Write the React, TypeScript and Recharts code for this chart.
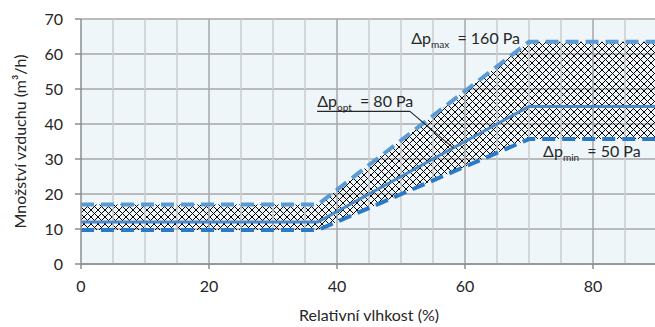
import React from "react";
import {
  ComposedChart,
  Area,
  Line,
  XAxis,
  YAxis,
  CartesianGrid,
  ReferenceLine,
  ReferenceDot,
} from "recharts";

// Relative humidity (%)
const humidity = [0, 37, 70, 90];
// Air flow (m3/h)
const minFlow = [9.7, 9.7, 35.7, 35.7];
const optFlow = [12, 12, 45, 45];
const maxFlow = [17, 17, 63.5, 63.5];

const xTicks = [0, 20, 40, 60, 80];
const yTicks = [0, 10, 20, 30, 40, 50, 60, 70];
const majorV = [20, 40, 60, 80];
const minorV = [5, 10, 15, 25, 30, 35, 45, 50, 55, 65, 70, 75, 85];

const labelMax = { x: 51.6, y: 63.0, main: "Δp", sub: "max", rest: "\u00a0 = 160 Pa" };
const labelOpt = { x: 36.9, y: 44.9, main: "Δp", sub: "opt", rest: "\u00a0 = 80 Pa" };
const labelMin = { x: 72.2, y: 30.5, main: "Δp", sub: "min", rest: "\u00a0 = 50 Pa" };
const optUnderline = [
  { x: 36.9, y: 43.6 },
  { x: 51.4, y: 43.6 },
];
const optPointer = [
  { x: 51.4, y: 43.6 },
  { x: 58.2, y: 33.1 },
];

const data = humidity.map((h, i) => ({
  x: h,
  band: [minFlow[i], maxFlow[i]],
  min: minFlow[i],
  opt: optFlow[i],
  max: maxFlow[i],
}));

const FONT = "Lato, 'Open Sans', sans-serif";
const TEXT = "#262626";

function makeLabel(l: { main: string; sub: string; rest: string }) {
  return (props: any) => {
    const vb = props.viewBox || {};
    const cx = (vb.x ?? 0) + (vb.width ?? 0) / 2;
    const cy = (vb.y ?? 0) + (vb.height ?? 0) / 2;
    return (
      <text x={cx} y={cy} fill={TEXT} fontFamily={FONT} fontSize={16} textAnchor="start">
        <tspan>{l.main}</tspan>
        <tspan fontSize={10} dy={4}>{l.sub}</tspan>
        <tspan fontSize={16} dy={-4}>{l.rest}</tspan>
      </text>
    );
  };
}

export default function App() {
  return (
    <div
      style={{
        position: "fixed",
        left: 0,
        top: 0,
        width: 655,
        height: 327,
        overflow: "hidden",
        background: "#fff",
      }}
    >
      <ComposedChart
        width={670}
        height={327}
        data={data}
        margin={{ top: 19, right: 13, bottom: 0, left: 0 }}
      >
        <defs>
          <pattern id="hatch" patternUnits="userSpaceOnUse" width={7} height={7}>
            <path d="M0,0 L7,7 M7,0 L0,7" stroke="#000" strokeWidth={1} fill="none" />
          </pattern>
        </defs>
        <CartesianGrid
          vertical={false}
          stroke="#a6a6a6"
          strokeWidth={1.5}
          fill="#eef6fa"
          fillOpacity={1}
        />
        {minorV.map((v) => (
          <ReferenceLine key={"mi" + v} x={v} stroke="#cbcbcb" strokeWidth={1.5} />
        ))}
        {majorV.map((v) => (
          <ReferenceLine key={"ma" + v} x={v} stroke="#a6a6a6" strokeWidth={1.5} />
        ))}
        <XAxis
          dataKey="x"
          type="number"
          domain={[0, 90]}
          ticks={xTicks}
          allowDataOverflow
          height={63}
          tickSize={5}
          tickMargin={12}
          stroke="#8c8c8c"
          strokeWidth={1.5}
          tick={{ fill: TEXT, fontSize: 16, fontFamily: FONT }}
          label={{
            content: (p: any) => {
              const vb = p.viewBox || {};
              return (
                <text
                  x={369}
                  y={(vb.y ?? 264) + 57}
                  textAnchor="middle"
                  fill={TEXT}
                  fontSize={16}
                  fontFamily={FONT}
                >
                  Relativní vlhkost (%)
                </text>
              );
            },
          }}
        />
        <YAxis
          type="number"
          domain={[0, 70]}
          ticks={yTicks}
          width={81}
          tickSize={6}
          tickMargin={12}
          stroke="#8c8c8c"
          strokeWidth={1.5}
          tick={{ fill: TEXT, fontSize: 16, fontFamily: FONT }}
          label={{
            content: (p: any) => {
              const vb = p.viewBox || {};
              const cy = (vb.y ?? 19) + (vb.height ?? 245) / 2;
              return (
                <text
                  x={19}
                  y={cy}
                  transform={`rotate(-90, 19, ${cy})`}
                  textAnchor="middle"
                  dominantBaseline="central"
                  fill={TEXT}
                  fontSize={16}
                  fontFamily={FONT}
                >
                  Množství vzduchu (m³/h)
                </text>
              );
            },
          }}
        />
        <Line
          dataKey="max"
          type="linear"
          stroke="#5b9bd5"
          strokeWidth={4}
          strokeDasharray="13 7"
          dot={false}
          activeDot={false}
          isAnimationActive={false}
        />
        <Line
          dataKey="min"
          type="linear"
          stroke="#2a7ac6"
          strokeWidth={4}
          strokeDasharray="13 7"
          dot={false}
          activeDot={false}
          isAnimationActive={false}
        />
        <Line
          dataKey="opt"
          type="linear"
          stroke="#4a88c7"
          strokeWidth={3}
          dot={false}
          activeDot={false}
          isAnimationActive={false}
        />
        <Area
          dataKey="band"
          type="linear"
          stroke="none"
          fill="url(#hatch)"
          fillOpacity={1}
          isAnimationActive={false}
          activeDot={false}
        />
        <ReferenceLine segment={optUnderline} stroke="#262626" strokeWidth={1.2} />
        <ReferenceLine segment={optPointer} stroke="#262626" strokeWidth={1.2} />
        <ReferenceDot
          x={labelMax.x}
          y={labelMax.y}
          r={1}
          fill="none"
          stroke="none"
          label={{ content: makeLabel(labelMax) }}
        />
        <ReferenceDot
          x={labelOpt.x}
          y={labelOpt.y}
          r={1}
          fill="none"
          stroke="none"
          label={{ content: makeLabel(labelOpt) }}
        />
        <ReferenceDot
          x={labelMin.x}
          y={labelMin.y}
          r={1}
          fill="none"
          stroke="none"
          label={{ content: makeLabel(labelMin) }}
        />
      </ComposedChart>
    </div>
  );
}
